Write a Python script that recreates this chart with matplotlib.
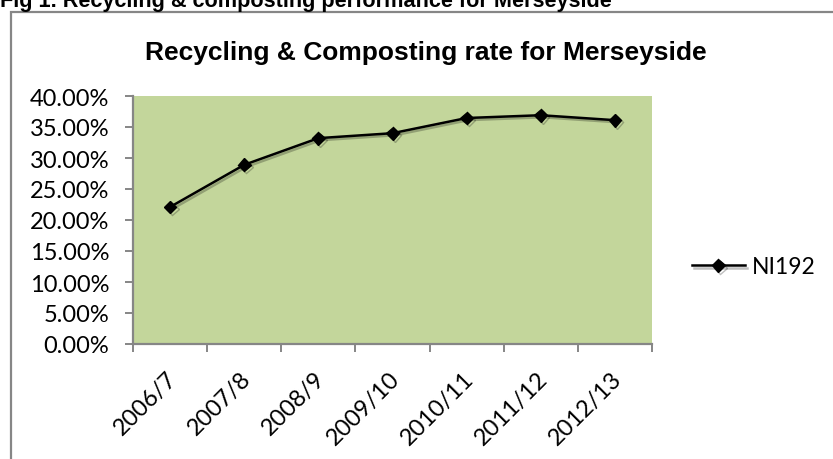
import matplotlib
matplotlib.use('Agg')
import matplotlib.pyplot as plt
import matplotlib.patches as mpatches
import matplotlib.patheffects as pe
import matplotlib.transforms as mtransforms
from matplotlib.ticker import PercentFormatter

# data
years = ['2006/7', '2007/8', '2008/9', '2009/10', '2010/11', '2011/12', '2012/13']
ni192 = [22.1, 28.9, 33.2, 34.0, 36.45, 36.9, 36.1]
series_name = 'NI192'
yticks = [0, 5, 10, 15, 20, 25, 30, 35, 40]

W, H = 833, 460
grey = '#868686'
green = '#C3D69B'

fig = plt.figure(figsize=(W / 100, H / 100), dpi=100)
fig.patch.set_facecolor('white')

# outer chart border (runs off right/bottom edges like the source)
fig.add_artist(mpatches.Rectangle((11 / W, -0.05), 1.0, 1 - 13 / H + 0.05,
                                  transform=fig.transFigure, fill=False,
                                  edgecolor=grey, lw=1.6, clip_on=False))

fig.text(0.0, 1 - 6.5 / H, 'Fig 1. Recycling & composting performance for Merseyside',
         fontsize=15.6, fontweight='bold', family='Liberation Sans', va='baseline', ha='left')

ax = fig.add_axes([133 / W, 1 - 345 / H, (652 - 133) / W, (345 - 97) / H])
ax.set_facecolor(green)

x = list(range(len(years)))
line, = ax.plot(x, ni192, color='black', lw=1.8, marker='D', markersize=6.5,
                markerfacecolor='black', markeredgecolor='black', label=series_name,
                path_effects=[pe.SimpleLineShadow(offset=(1.5, -1.5), alpha=0.25), pe.Normal()])

ax.set_xlim(-0.5, len(years) - 0.5)
ax.set_ylim(0, 40)
ax.set_yticks(yticks)
ax.yaxis.set_major_formatter(PercentFormatter(decimals=2))

ax.set_xticks([i - 0.5 for i in range(len(years) + 1)])
ax.set_xticklabels([])
ax.set_xticks(x, minor=True)
ax.tick_params(axis='x', which='minor', length=0, pad=14)
ax.tick_params(axis='x', which='major', length=6, width=1.4, color=grey, direction='out')
ax.tick_params(axis='y', length=6, width=1.4, color=grey, direction='out', pad=11)
ax.set_xticklabels(years, minor=True, rotation=45, ha='right', va='top',
                   rotation_mode='anchor', family='Lato', fontsize=17)
# nudge rotated labels (after tick_params, which would reset transforms)
shift = mtransforms.ScaledTranslation(-4 / 100, -4 / 100, fig.dpi_scale_trans)
for lab in ax.get_xticklabels(minor=True):
    lab.set_transform(lab.get_transform() + shift)
for lab in ax.get_yticklabels():
    lab.set_family('Lato')
    lab.set_fontsize(17)

for s in ['top', 'right']:
    ax.spines[s].set_visible(False)
for s in ['left', 'bottom']:
    ax.spines[s].set_color(grey)
    ax.spines[s].set_linewidth(1.6)

fig.text(426 / W, 1 - 53 / H, 'Recycling & Composting rate for Merseyside',
         fontsize=19, fontweight='bold', family='Liberation Sans', ha='center', va='center')

fig.legend(handles=[line], loc='center left', bbox_to_anchor=(692 / W, 1 - 268 / H),
           frameon=False, prop={'family': 'Lato', 'size': 16.5}, handlelength=2.3,
           handletextpad=0.3, borderaxespad=0, borderpad=0)

fig.savefig('out.png', dpi=100)
